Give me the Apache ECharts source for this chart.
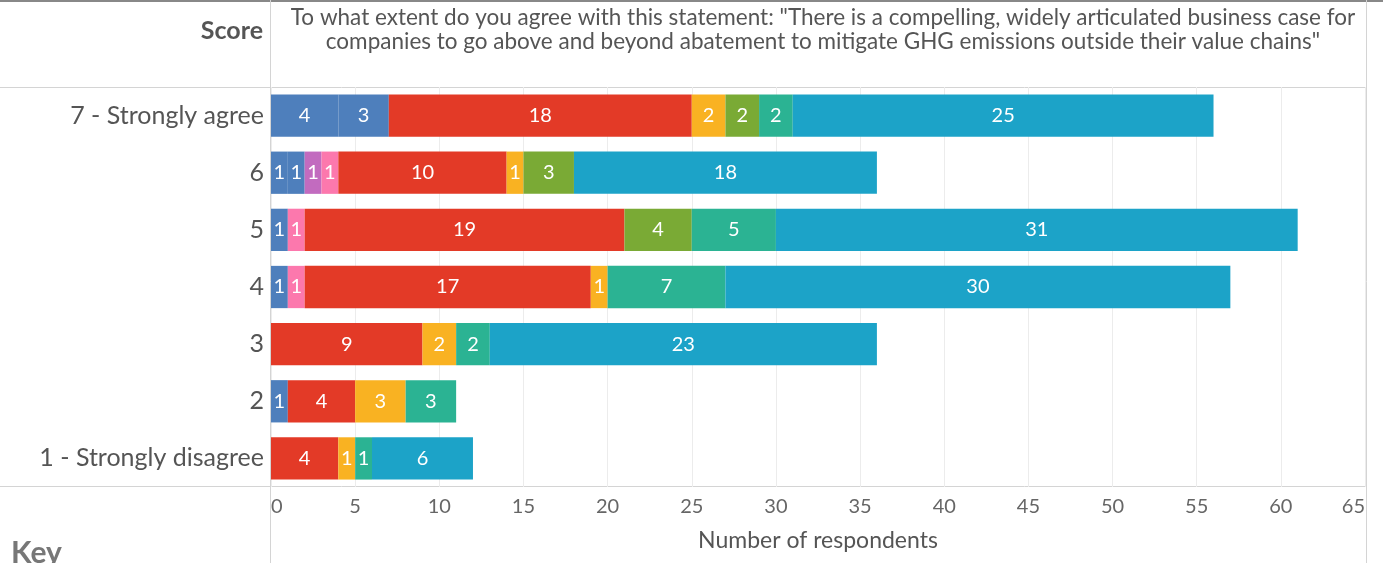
<!DOCTYPE html>
<html>
<head>
<meta charset="utf-8">
<style>
  html, body { margin: 0; padding: 0; background: #fff; }
  #chart { width: 1383px; height: 563px; }
</style>
<script src="https://cdn.jsdelivr.net/npm/echarts@6/dist/echarts.min.js"></script>
</head>
<body>
<div id="chart"></div>
<script>
// scores, top row first
const scores = ['7 - Strongly agree', '6', '5', '4', '3', '2', '1 - Strongly disagree']

// respondents per group for each score (null = none)
const blueA  = [4, 1, 1, 1, null, 1, null]
const blueB  = [3, 1, null, null, null, null, null]
const purple = [null, 1, null, null, null, null, null]
const pink   = [null, 1, 1, 1, null, null, null]
const red    = [18, 10, 19, 17, 9, 4, 4]
const orange = [2, 1, null, 1, 2, 3, 1]
const green  = [2, 3, 4, null, null, null, null]
const teal   = [2, null, 5, 7, 2, 3, 1]
const cyan   = [25, 18, 31, 30, 23, null, 6]

const xTicks = { min: 0, max: 65, interval: 5 }

const groups = [
  { name: 'A', data: blueA, color: '#4e7fbc' },
  { name: 'B', data: blueB, color: '#4e7fbc' },
  { name: 'C', data: purple, color: '#c26bbf' },
  { name: 'D', data: pink, color: '#fc78ad' },
  { name: 'E', data: red, color: '#e33a27' },
  { name: 'F', data: orange, color: '#f9b222' },
  { name: 'G', data: green, color: '#7aaa35' },
  { name: 'H', data: teal, color: '#2bb393' },
  { name: 'I', data: cyan, color: '#1ca3c8' }
]

const font = 'Lato, "Open Sans", sans-serif'
const chart = echarts.init(document.getElementById('chart'))

const option = {
  animation: false,
  textStyle: { fontFamily: font },
  grid: { left: 271, right: 18, top: 87, height: 400 },
  title: [
    {
      text: 'To what extent do you agree with this statement: "There is a compelling, widely articulated business case for\ncompanies to go above and beyond abatement to mitigate GHG emissions outside their value chains"',
      left: 818, top: 1, textAlign: 'center',
      textStyle: { fontSize: 22.5, fontWeight: 'normal', color: '#555', lineHeight: 24, fontFamily: font }
    },
    {
      text: 'Score', right: 1115, top: 13,
      textStyle: { fontSize: 25, fontWeight: 'bold', color: '#555', fontFamily: font }
    },
    {
      text: 'Key', left: 6, top: 533,
      textStyle: { fontSize: 30, fontWeight: 'bold', color: '#777', fontFamily: font }
    }
  ],
  xAxis: {
    type: 'value',
    min: xTicks.min, max: xTicks.max, interval: xTicks.interval,
    name: 'Number of respondents',
    nameLocation: 'middle', nameGap: 42,
    nameTextStyle: { fontSize: 23, color: '#555' },
    axisLine: { show: false },
    axisTick: { show: false },
    axisLabel: { fontSize: 20, color: '#666', margin: 10, alignMinLabel: 'left', alignMaxLabel: 'right' },
    splitLine: { lineStyle: { color: '#ececec' } }
  },
  yAxis: {
    type: 'category',
    data: scores,
    inverse: true,
    axisLine: { show: false },
    axisTick: { show: false },
    axisLabel: { fontSize: 25, color: '#555', margin: 7 }
  },
  series: groups.map(g => ({
    name: g.name,
    type: 'bar',
    stack: 'total',
    barCategoryGap: '26%',
    data: g.data,
    itemStyle: { color: g.color },
    label: {
      show: true, position: 'inside', color: '#fff', fontSize: 20,
      formatter: p => (p.value ? p.value : '')
    }
  })),
  graphic: [
    { type: 'line', shape: { x1: 0, y1: 1, x2: 1383, y2: 1 }, style: { stroke: '#888', lineWidth: 2 } },
    { type: 'line', shape: { x1: 0, y1: 87.5, x2: 1366, y2: 87.5 }, style: { stroke: '#d4d4d4', lineWidth: 1 } },
    { type: 'line', shape: { x1: 0, y1: 486.5, x2: 1366, y2: 486.5 }, style: { stroke: '#d4d4d4', lineWidth: 1 } },
    { type: 'line', shape: { x1: 270.5, y1: 0, x2: 270.5, y2: 563 }, style: { stroke: '#d4d4d4', lineWidth: 1 } },
    { type: 'line', shape: { x1: 1366.5, y1: 0, x2: 1366.5, y2: 563 }, style: { stroke: '#d4d4d4', lineWidth: 1 } }
  ]
}

chart.setOption(option)
window.addEventListener('resize', () => chart.resize())
</script>
</body>
</html>
